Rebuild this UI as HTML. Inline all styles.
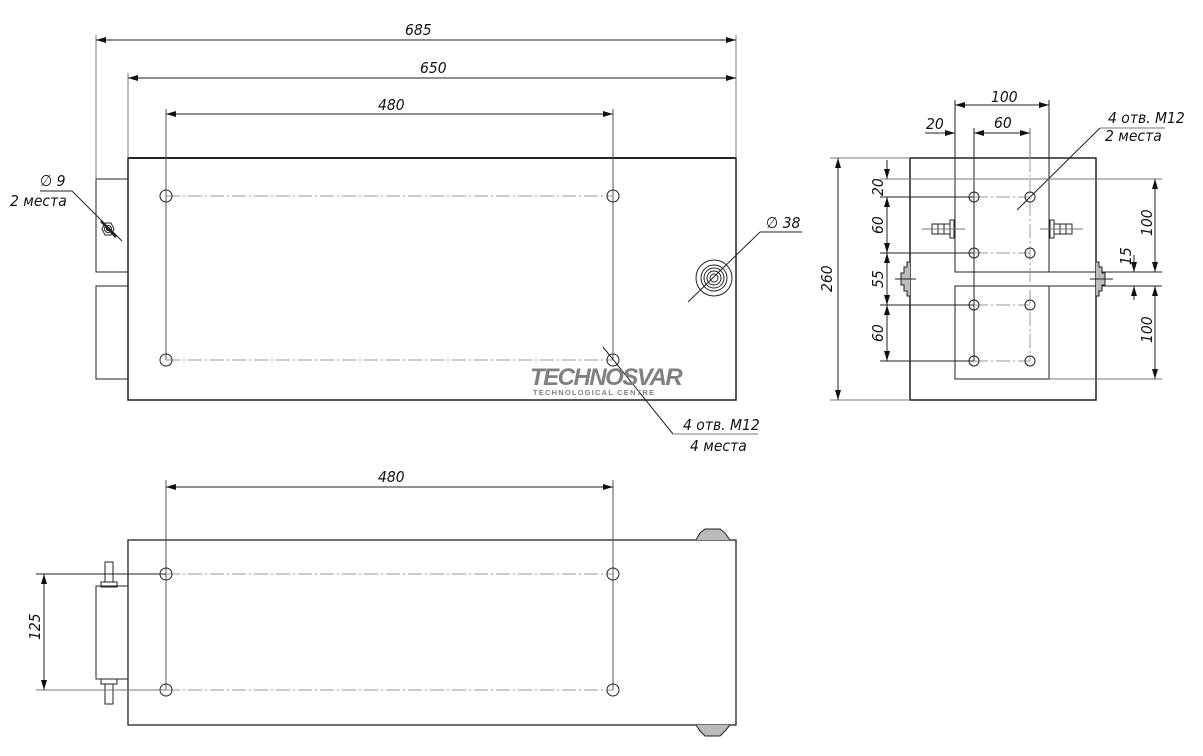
<!DOCTYPE html>
<html><head><meta charset="utf-8"><style>
html,body{margin:0;padding:0;background:#fff;}
svg{display:block}
text{font-family:"DejaVu Sans Condensed","Liberation Sans Narrow","Liberation Sans",sans-serif;font-style:italic;font-size:15.5px;fill:#111}
</style></head><body>
<svg width="1203" height="756" viewBox="0 0 1203 756" xmlns="http://www.w3.org/2000/svg">
<defs>
<marker id="a" viewBox="0 0 10 6" refX="10" refY="3" markerWidth="10" markerHeight="6" orient="auto-start-reverse" markerUnits="userSpaceOnUse"><path d="M0,0L10,3L0,6z" fill="#111"/></marker>
</defs>
<g fill="none" stroke="#222" stroke-width="1">
<!-- TOP VIEW -->
<rect x="128" y="158" width="608" height="242" stroke-width="1.5"/>
<line x1="128" y1="158" x2="736" y2="158" stroke-width="2"/>
<rect x="96" y="179" width="32" height="93"/>
<rect x="96" y="286" width="32" height="93"/>
<line x1="96" y1="35" x2="96" y2="179" stroke="#777"/>
<line x1="736" y1="35" x2="736" y2="158" stroke="#777"/>
<line x1="128" y1="73" x2="128" y2="158" stroke="#777"/>
<line x1="166" y1="109" x2="166" y2="360" stroke="#555"/>
<line x1="613" y1="109" x2="613" y2="360" stroke="#555"/>
<line x1="96" y1="40" x2="736" y2="40" marker-start="url(#a)" marker-end="url(#a)"/>
<line x1="128" y1="78" x2="736" y2="78" marker-start="url(#a)" marker-end="url(#a)"/>
<line x1="166" y1="114" x2="613" y2="114" marker-start="url(#a)" marker-end="url(#a)"/>
<g stroke="#999" stroke-dasharray="14,3,2,3">
<line x1="166" y1="196" x2="613" y2="196"/><line x1="166" y1="360" x2="613" y2="360"/>
</g>
<circle cx="166" cy="196" r="6"/><circle cx="613" cy="196" r="6"/>
<circle cx="166" cy="360" r="6"/><circle cx="613" cy="360" r="6"/>
<polygon points="102,229 105,223 111,223 114,229 111,235 105,235"/>
<circle cx="108" cy="229" r="3.5"/><circle cx="108" cy="229" r="1.5"/>
<line x1="122" y1="241" x2="72" y2="191"/><line x1="40" y1="191" x2="72" y2="191"/>
<line x1="101" y1="221" x2="116" y2="237" stroke-width="2.5"/>
<circle cx="714" cy="278" r="18"/><circle cx="714" cy="278" r="13"/><circle cx="714" cy="278" r="10"/><circle cx="714" cy="278" r="7"/><circle cx="714" cy="278" r="4"/>
<line x1="688" y1="302" x2="760" y2="232"/><line x1="760" y1="232" x2="802" y2="232"/>
<line x1="603" y1="347" x2="673" y2="434"/><line x1="673" y1="434" x2="758" y2="434" stroke="#777"/>
<!-- BOTTOM VIEW -->
<rect x="128" y="540" width="608" height="185" stroke-width="1.3"/>
<line x1="166" y1="480" x2="166" y2="690" stroke="#555"/>
<line x1="613" y1="480" x2="613" y2="690" stroke="#555"/>
<line x1="166" y1="487" x2="613" y2="487" marker-start="url(#a)" marker-end="url(#a)"/>
<g stroke="#999" stroke-dasharray="14,3,2,3">
<line x1="166" y1="574" x2="613" y2="574"/><line x1="166" y1="690" x2="613" y2="690"/>
</g>
<circle cx="166" cy="574" r="6"/><circle cx="613" cy="574" r="6"/>
<circle cx="166" cy="690" r="6"/><circle cx="613" cy="690" r="6"/>
<rect x="96" y="586" width="32" height="93"/>
<rect x="101" y="582" width="16" height="5"/><rect x="105" y="562" width="8" height="20"/>
<rect x="101" y="679" width="16" height="5"/><rect x="105" y="684" width="8" height="20"/>
<line x1="36" y1="574" x2="166" y2="574"/><line x1="36" y1="690" x2="166" y2="690" stroke="#777"/>
<line x1="44" y1="574" x2="44" y2="690" marker-start="url(#a)" marker-end="url(#a)"/>
<path d="M696,540 L700,533 L705,529 L720,529 L725,533 L730,540" fill="#bbb"/>
<path d="M696,725 L700,731 L705,736 L720,736 L725,731 L730,725" fill="#bbb"/>
<!-- RIGHT VIEW -->
<rect x="910" y="158" width="186" height="242" stroke-width="1.5"/>
<rect x="955" y="158" width="94" height="114"/>
<rect x="955" y="286" width="94" height="93"/>
<line x1="955" y1="100" x2="955" y2="158"/><line x1="1049" y1="100" x2="1049" y2="158"/>
<line x1="974" y1="128" x2="974" y2="361"/><line x1="1030" y1="128" x2="1030" y2="158" stroke="#777"/>
<line x1="955" y1="105" x2="1049" y2="105" marker-start="url(#a)" marker-end="url(#a)"/>
<line x1="974" y1="133" x2="1030" y2="133" marker-start="url(#a)" marker-end="url(#a)"/>
<line x1="925" y1="133" x2="955" y2="133" marker-end="url(#a)"/>
<g stroke="#999" stroke-dasharray="14,3,2,3">
<line x1="974" y1="197" x2="1030" y2="197"/><line x1="974" y1="253" x2="1030" y2="253"/>
<line x1="974" y1="305" x2="1030" y2="305"/><line x1="974" y1="361" x2="1030" y2="361"/>
<line x1="1030" y1="158" x2="1030" y2="361"/>
</g>
<circle cx="974" cy="197" r="5"/><circle cx="1030" cy="197" r="5"/>
<circle cx="974" cy="253" r="5"/><circle cx="1030" cy="253" r="5"/>
<circle cx="974" cy="305" r="5"/><circle cx="1030" cy="305" r="5"/>
<circle cx="974" cy="361" r="5"/><circle cx="1030" cy="361" r="5"/>
<line x1="1017" y1="210" x2="1100" y2="128"/><line x1="1100" y1="128" x2="1165" y2="128" stroke="#777"/>
<line x1="830" y1="158" x2="910" y2="158" stroke="#777"/><line x1="830" y1="400" x2="910" y2="400" stroke="#777"/>
<line x1="838" y1="158" x2="838" y2="400" marker-start="url(#a)" marker-end="url(#a)"/>
<line x1="880" y1="179" x2="1162" y2="179" stroke="#777"/>
<line x1="880" y1="197" x2="974" y2="197"/><line x1="880" y1="253" x2="974" y2="253"/>
<line x1="880" y1="305" x2="974" y2="305"/><line x1="880" y1="361" x2="974" y2="361"/>
<line x1="887" y1="160" x2="887" y2="179" marker-end="url(#a)"/>
<line x1="887" y1="197" x2="887" y2="253" marker-start="url(#a)" marker-end="url(#a)"/>
<line x1="887" y1="253" x2="887" y2="305" marker-start="url(#a)" marker-end="url(#a)"/>
<line x1="887" y1="305" x2="887" y2="361" marker-start="url(#a)" marker-end="url(#a)"/>
<line x1="1049" y1="272" x2="1162" y2="272"/><line x1="1049" y1="286" x2="1162" y2="286"/>
<line x1="1049" y1="379" x2="1162" y2="379" stroke="#777"/>
<line x1="1155" y1="179" x2="1155" y2="272" marker-start="url(#a)" marker-end="url(#a)"/>
<line x1="1155" y1="286" x2="1155" y2="379" marker-start="url(#a)" marker-end="url(#a)"/>
<line x1="1134" y1="255" x2="1134" y2="272" marker-end="url(#a)"/>
<line x1="1134" y1="300" x2="1134" y2="286" marker-end="url(#a)"/>
<!-- bolts -->
<rect x="932" y="224" width="18" height="10"/><line x1="938" y1="224" x2="938" y2="234"/><line x1="944" y1="224" x2="944" y2="234"/>
<rect x="950" y="220" width="4" height="18"/><line x1="922" y1="229" x2="965" y2="229" stroke="#777"/>
<rect x="1054" y="224" width="18" height="10"/><line x1="1060" y1="224" x2="1060" y2="234"/><line x1="1066" y1="224" x2="1066" y2="234"/>
<rect x="1050" y="220" width="4" height="18"/><line x1="1040" y1="229" x2="1083" y2="229" stroke="#777"/>
<path d="M910,262 L907,262 L907,267 L904,267 L904,273 L901,273 L901,285 L904,285 L904,291 L907,291 L907,296 L910,296" fill="#bbb"/>
<line x1="895" y1="279" x2="916" y2="279"/>
<path d="M1096,262 L1099,262 L1099,267 L1102,267 L1102,273 L1105,273 L1105,285 L1102,285 L1102,291 L1099,291 L1099,296 L1096,296" fill="#bbb"/>
<line x1="1090" y1="279" x2="1113" y2="279"/>
</g>
<!-- logo -->
<text x="530" y="385" style="font-family:'Liberation Sans',sans-serif;font-weight:900;font-style:italic;font-size:24px;fill:#808080;letter-spacing:-1.5px">TECHNOSVAR</text>
<text x="533" y="395" style="font-family:'Liberation Sans',sans-serif;font-weight:bold;font-size:7.5px;fill:#808080;letter-spacing:1.2px;font-style:normal">TECHNOLOGICAL  CENTRE</text>
<!-- labels -->
<text x="405" y="35">685</text>
<text x="420" y="73">650</text>
<text x="378" y="110">480</text>
<text x="378" y="482">480</text>
<text x="40" y="186">∅ 9</text>
<text x="10" y="206">2 места</text>
<text x="766" y="228">∅ 38</text>
<text x="683" y="430">4 отв. M12</text>
<text x="690" y="451">4 места</text>
<text transform="translate(40,640) rotate(-90)">125</text>
<text x="991" y="102">100</text>
<text x="994" y="128">60</text>
<text x="926" y="129">20</text>
<text x="1108" y="123">4 отв. M12</text>
<text x="1105" y="141">2 места</text>
<text transform="translate(832,292) rotate(-90)">260</text>
<text transform="translate(883,196) rotate(-90)">20</text>
<text transform="translate(883,234) rotate(-90)">60</text>
<text transform="translate(883,288) rotate(-90)">55</text>
<text transform="translate(883,342) rotate(-90)">60</text>
<text transform="translate(1152,236) rotate(-90)">100</text>
<text transform="translate(1152,343) rotate(-90)">100</text>
<text transform="translate(1131,265) rotate(-90)">15</text>
</svg>
</body></html>
